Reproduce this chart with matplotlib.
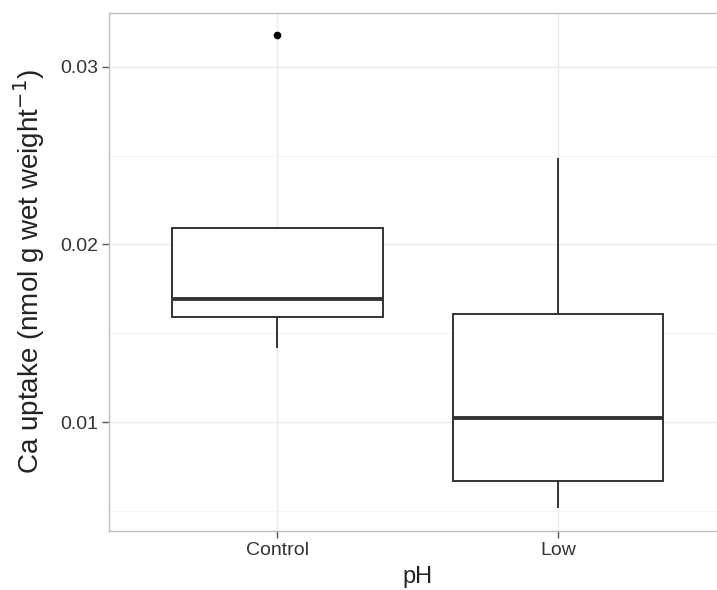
"""Ca uptake by pH treatment: ggplot-style boxplot redrawn in matplotlib."""
import matplotlib
matplotlib.use("Agg")
import matplotlib.pyplot as plt

# values
categories = ["Control", "Low"]
q1 = [0.0159, 0.0067]
median = [0.0169, 0.0102]
q3 = [0.0209, 0.0161]
whisker_low = [0.0142, 0.0052]
whisker_high = [0.0209, 0.0248]
outliers = [[0.0318], []]
y_ticks = [0.01, 0.02, 0.03]
y_minor = [0.005, 0.015, 0.025]

plt.rcParams["font.family"] = ["Liberation Sans", "DejaVu Sans"]

fig = plt.figure(figsize=(7.17, 5.9), dpi=100)
# panel runs past the right edge, as in the cropped original
ax = fig.add_axes([0.152, 0.1008, 0.861, 0.878])

stats = []
for i, name in enumerate(categories):
    stats.append({"label": name, "med": median[i], "q1": q1[i], "q3": q3[i],
                  "whislo": whisker_low[i], "whishi": whisker_high[i],
                  "fliers": outliers[i]})

pos = list(range(1, len(categories) + 1))
ax.bxp(stats, positions=pos, widths=0.75, showcaps=False, patch_artist=True,
       boxprops=dict(facecolor="white", edgecolor="#333333", linewidth=1.4),
       whiskerprops=dict(color="#333333", linewidth=1.4),
       medianprops=dict(color="#333333", linewidth=2.8),
       flierprops=dict(marker="o", markersize=4.5, markerfacecolor="black",
                       markeredgecolor="black"),
       zorder=3)

ax.set_xlim(0.4, 2.6)
ax.set_ylim(0.00389, 0.03306)
ax.set_yticks(y_ticks)
ax.set_yticklabels([f"{v:.2f}" for v in y_ticks])
ax.set_yticks(y_minor, minor=True)
ax.set_xticks(pos)
ax.set_xticklabels(categories)

ax.grid(True, which="major", color="#EBEBEB", linewidth=1.0, zorder=0)
ax.grid(True, which="minor", axis="y", color="#F4F4F4", linewidth=0.8, zorder=0)
ax.set_axisbelow(True)

for s in ax.spines.values():
    s.set_color("#BDBDBD")
    s.set_linewidth(1.0)
ax.tick_params(axis="both", which="major", length=5, width=1.0, color="#555555",
               labelsize=14, labelcolor="#333333", pad=3)
ax.tick_params(axis="y", which="minor", length=0)

ax.set_xlabel("pH", fontsize=17, color="#222222")
ax.set_ylabel("Ca uptake (nmol g wet weight$^{-1}$)", fontsize=20,
              color="#222222")
ax.xaxis.set_label_coords(0.5, -0.0685)
ax.yaxis.set_label_coords(-0.1004, 0.5)

fig.savefig("out.png", dpi=100)
